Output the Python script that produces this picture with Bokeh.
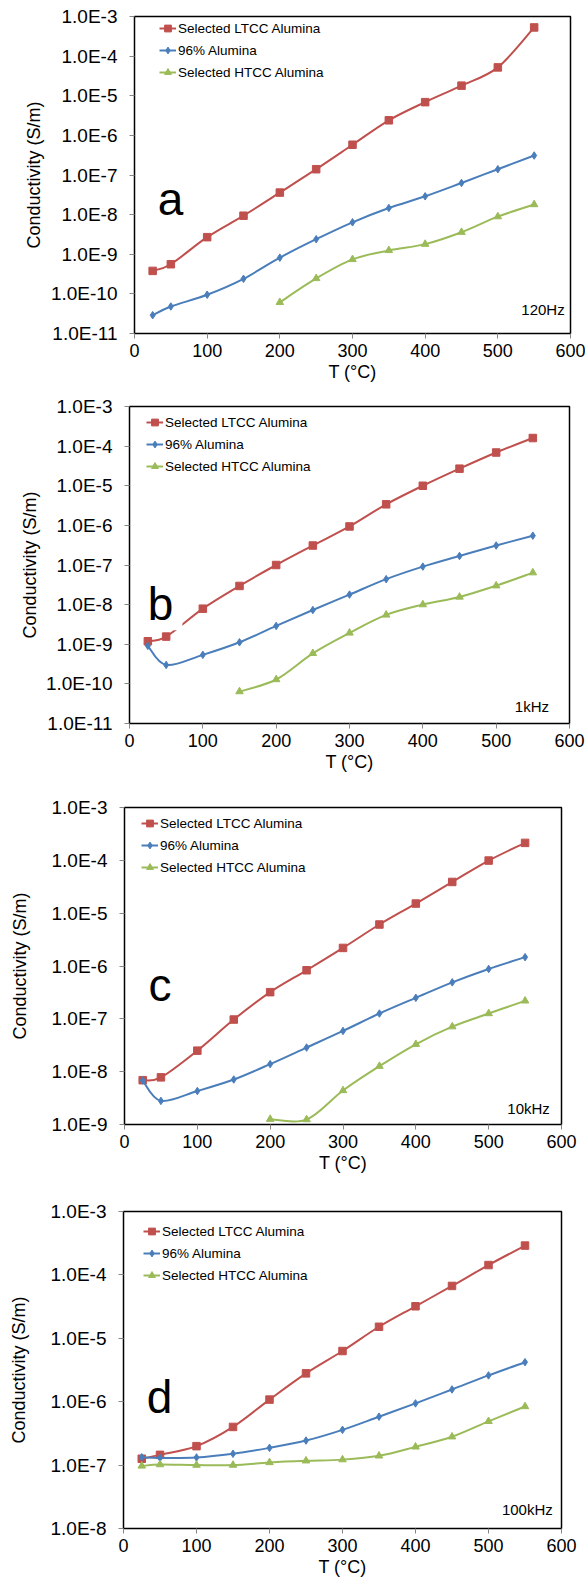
import numpy as np
from bokeh.plotting import figure
from bokeh.models import (Range1d, FixedTicker, CustomJSTickFormatter, Legend,
                          LegendItem, Label, ColumnDataSource)
from bokeh.embed import file_html
from bokeh.resources import INLINE

FONT = "Liberation Sans"

# ---------------- data ----------------
T_ALL = [25, 50, 100, 150, 200, 250, 300, 350, 400, 450, 500, 550]
X_TICKS = [0, 100, 200, 300, 400, 500, 600]
SERIES_NAMES = ["Selected LTCC Alumina", "96% Alumina", "Selected HTCC Alumina"]
SERIES_COLORS = ["#C0504D", "#4A7EBB", "#9BBB59"]
SERIES_MARKERS = ["square", "diamond", "triangle"]

# (a) 120 Hz
A_LTCC = [3.8e-10, 5.6e-10, 2.7e-9, 9.4e-9, 3.6e-8, 1.4e-7, 5.8e-7, 2.4e-6, 6.9e-6, 1.8e-5, 5.2e-5, 5.3e-4]
A_96 = [2.9e-11, 4.8e-11, 9.5e-11, 2.4e-10, 8.2e-10, 2.4e-9, 6.4e-9, 1.47e-8, 2.9e-8, 6.3e-8, 1.4e-7, 3.1e-7]
A_HTCC_T = [200, 250, 300, 350, 400, 450, 500, 550]
A_HTCC = [6.1e-11, 2.45e-10, 7.4e-10, 1.25e-9, 1.8e-9, 3.6e-9, 8.9e-9, 1.8e-8]

# (b) 1 kHz
B_LTCC = [1.19e-9, 1.56e-9, 7.9e-9, 2.96e-8, 1.0e-7, 3.1e-7, 9.4e-7, 3.4e-6, 1.0e-5, 2.7e-5, 6.9e-5, 1.6e-4]
B_96 = [9.1e-10, 3.0e-10, 5.4e-10, 1.12e-9, 2.9e-9, 7.3e-9, 1.79e-8, 4.4e-8, 9.1e-8, 1.69e-7, 3.1e-7, 5.5e-7]
B_HTCC_T = [150, 200, 250, 300, 350, 400, 450, 500, 550]
B_HTCC = [6.4e-11, 1.29e-10, 5.9e-10, 1.93e-9, 5.5e-9, 1.0e-8, 1.56e-8, 3.0e-8, 6.4e-8]

# (c) 10 kHz
C_LTCC = [6.9e-9, 7.8e-9, 2.5e-8, 9.7e-8, 3.2e-7, 8.3e-7, 2.2e-6, 6.1e-6, 1.52e-5, 3.9e-5, 9.9e-5, 2.14e-4]
C_96 = [6.8e-9, 2.8e-9, 4.3e-9, 7.1e-9, 1.39e-8, 2.86e-8, 5.9e-8, 1.26e-7, 2.5e-7, 4.9e-7, 8.8e-7, 1.47e-6]
C_HTCC_T = [200, 250, 300, 350, 400, 450, 500, 550]
C_HTCC = [1.26e-9, 1.24e-9, 4.4e-9, 1.27e-8, 3.3e-8, 7.1e-8, 1.26e-7, 2.19e-7]

# (d) 100 kHz
D_LTCC = [1.26e-7, 1.45e-7, 1.99e-7, 4.0e-7, 1.08e-6, 2.8e-6, 6.3e-6, 1.52e-5, 3.2e-5, 6.7e-5, 1.43e-4, 2.9e-4]
D_96 = [1.33e-7, 1.30e-7, 1.32e-7, 1.51e-7, 1.87e-7, 2.44e-7, 3.6e-7, 5.8e-7, 9.4e-7, 1.56e-6, 2.6e-6, 4.2e-6]
D_HTCC_T = [25, 50, 100, 150, 200, 250, 300, 350, 400, 450, 500, 550]
D_HTCC = [9.7e-8, 1.02e-7, 1.0e-7, 1.0e-7, 1.1e-7, 1.17e-7, 1.22e-7, 1.4e-7, 1.94e-7, 2.8e-7, 4.9e-7, 8.4e-7]

PANELS = [
    dict(letter="a", freq="120Hz", emin=-11, emax=-3,
         series=[(T_ALL, A_LTCC), (T_ALL, A_96), (A_HTCC_T, A_HTCC)],
         w=585, h=388, bl=134, br=15, bt=16, bb=55,
         letter_pos=(32, 10 ** -7.6), freq_pos=(592, 10 ** -10.4),
         leg=(25, 251), yls=4, letter_bg=False),
    dict(letter="b", freq="1kHz", emin=-11, emax=-3,
         series=[(T_ALL, B_LTCC), (T_ALL, B_96), (B_HTCC_T, B_HTCC)],
         w=585, h=395, bl=129, br=16, bt=18, bb=60,
         letter_pos=(25, 10 ** -7.99), freq_pos=(572, 10 ** -10.565),
         leg=(17, 247), yls=3, letter_bg=True),
    dict(letter="c", freq="10kHz", emin=-9, emax=-3,
         series=[(T_ALL, C_LTCC), (T_ALL, C_96), (C_HTCC_T, C_HTCC)],
         w=585, h=402, bl=124, br=24, bt=24, bb=61,
         letter_pos=(33, 10 ** -6.365), freq_pos=(584, 10 ** -8.69),
         leg=(17, 247), yls=19, letter_bg=False),
    dict(letter="d", freq="100kHz", emin=-8, emax=-3,
         series=[(T_ALL, D_LTCC), (T_ALL, D_96), (D_HTCC_T, D_HTCC)],
         w=585, h=398, bl=123, br=24, bt=26, bb=55,
         letter_pos=(32, 10 ** -5.924), freq_pos=(588, 10 ** -7.70),
         leg=(20, 243), yls=19, letter_bg=False),
]


def smooth(xs, ys):
    """Bezier control points (Catmull-Rom style, like Excel's smoothed line)
    computed in (x, log10 y) space, which is affine to screen space."""
    x = np.asarray(xs, float)
    ly = np.log10(np.asarray(ys, float))
    n = len(x)
    i = np.arange(n - 1)
    prv = np.maximum(i - 1, 0)
    nxt = np.minimum(i + 2, n - 1)
    cx0 = x[i] + (x[i + 1] - x[prv]) / 6.0
    cy0 = ly[i] + (ly[i + 1] - ly[prv]) / 6.0
    cx1 = x[i + 1] - (x[nxt] - x[i]) / 6.0
    cy1 = ly[i + 1] - (ly[nxt] - ly[i]) / 6.0
    return dict(x0=x[i], y0=10 ** ly[i], x1=x[i + 1], y1=10 ** ly[i + 1],
                cx0=cx0, cy0=10 ** cy0, cx1=cx1, cy1=10 ** cy1)


def make_panel(cfg):
    p = figure(width=cfg["w"], height=cfg["h"],
               x_range=Range1d(0, 600),
               y_range=Range1d(10.0 ** cfg["emin"], 10.0 ** cfg["emax"]),
               y_axis_type="log", output_backend="svg", toolbar_location=None,
               min_border_left=cfg["bl"], min_border_right=cfg["br"],
               min_border_top=cfg["bt"], min_border_bottom=cfg["bb"])
    p.xgrid.visible = False
    p.ygrid.visible = False
    p.outline_line_color = "black"
    p.outline_line_width = 1.5
    p.background_fill_color = "white"
    p.border_fill_color = "white"

    xa = p.xaxis[0]
    ya = p.yaxis[0]
    xa.ticker = FixedTicker(ticks=X_TICKS)
    ya.ticker = FixedTicker(ticks=[10.0 ** e for e in range(cfg["emin"], cfg["emax"] + 1)],
                            minor_ticks=[])
    ya.formatter = CustomJSTickFormatter(code="return '1.0E' + Math.round(Math.log10(tick));")
    for ax in (xa, ya):
        ax.axis_line_color = None
        ax.major_tick_line_color = "#868686"
        ax.major_tick_in = 0
        ax.major_tick_out = 5
        ax.minor_tick_line_color = None
        ax.major_label_text_font = FONT
        ax.major_label_text_color = "black"
        ax.axis_label_text_font = FONT
        ax.axis_label_text_font_style = "normal"
        ax.axis_label_text_font_size = "18px"
        ax.axis_label_text_color = "black"
    xa.major_label_text_font_size = "18px"
    ya.major_label_text_font_size = "19px"
    xa.major_label_standoff = 5
    ya.major_label_standoff = 12
    xa.axis_label = "T (\u00b0C)"
    ya.axis_label = "Conductivity (S/m)"
    xa.axis_label_standoff = 2
    ya.axis_label_standoff = cfg["yls"]

    items = []
    for (xs, ys), name, col, mk in zip(cfg["series"], SERIES_NAMES, SERIES_COLORS, SERIES_MARKERS):
        src = ColumnDataSource(smooth(xs, ys))
        lr = p.bezier(x0="x0", y0="y0", x1="x1", y1="y1", cx0="cx0", cy0="cy0",
                      cx1="cx1", cy1="cy1", source=src, line_color=col, line_width=2)
        size = {"square": 7.5, "diamond": 7.5, "triangle": 7.5}[mk]
        sr = p.scatter(xs, ys, marker=mk, size=size, fill_color=col, line_color=col)
        items.append(LegendItem(label=name, renderers=[lr, sr]))

    leg = Legend(items=items, location=cfg["leg"], orientation="vertical",
                 padding=0, margin=0, spacing=2, glyph_height=20, glyph_width=17,
                 label_height=20, label_standoff=2,
                 label_text_font=FONT, label_text_font_size="13.5px",
                 label_text_color="black",
                 background_fill_alpha=0, border_line_color=None)
    p.add_layout(leg)

    lx, ly = cfg["letter_pos"]
    lab = Label(x=lx, y=ly, text=cfg["letter"], text_font=FONT, text_font_size="46px",
                text_color="black", text_baseline="alphabetic", text_align="left")
    if cfg["letter_bg"]:
        lab.background_fill_color = "white"
        lab.padding = dict(left=0, right=9, top=0, bottom=0)
    p.add_layout(lab)

    fx, fy = cfg["freq_pos"]
    p.add_layout(Label(x=fx, y=fy, text=cfg["freq"], text_font=FONT, text_font_size="15px",
                       text_color="black", text_baseline="alphabetic", text_align="right"))
    return p


# Separate roots, so the four plot frames are not forced into alignment.
figs = [make_panel(c) for c in PANELS]
open("out.html", "w").write(file_html(figs, INLINE))
